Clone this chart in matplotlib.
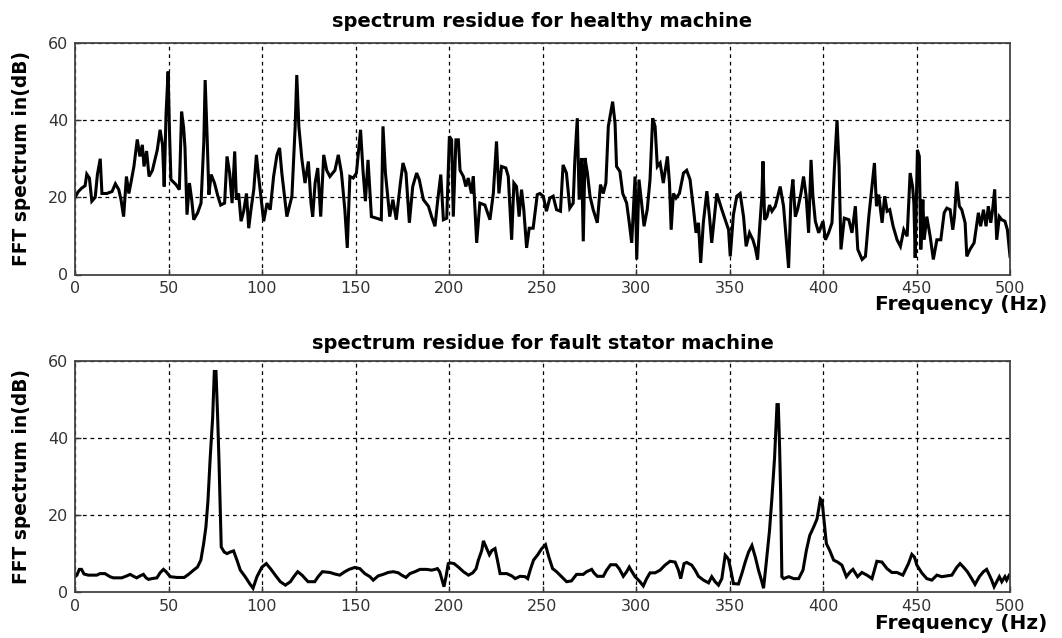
import numpy as np
import matplotlib.pyplot as plt

# healthy machine: (frequency Hz, level dB)
healthy_f = [0, 1.8, 3.6, 5.4, 6.3, 7.7, 9, 10.8, 12, 13.5, 14.4, 17, 19.8, 21.6, 23.4, 24.6, 26, 27.5, 28.8, 30,
             31.5, 33.3, 34.7, 36, 36.9, 38.3, 39.6, 41.4, 44, 45.5, 46.8, 47.7, 48.7, 49.8, 50.5, 51.3, 54, 55.8, 57, 58.1,
             58.8, 59.9, 61.2, 62.4, 63.5, 65.6, 67.4, 68.9, 69.6, 70.7, 71.6, 72.8, 74.6, 76.4, 77.9, 80, 81.3, 82.7, 84, 85.4,
             86.3, 87.5, 88.8, 90.2, 91.7, 92.9, 94.1, 95.6, 97, 98.2, 100, 100.9, 102.7, 104.4, 106.2, 108, 109.4, 110.6, 113.3, 116,
             117.7, 118.6, 119.7, 121.3, 123, 124.8, 126.2, 127.1, 128.4, 129.8, 131.4, 133, 134.6, 136.3, 139, 140.8, 142.5, 144.3, 145.6, 147,
             148.8, 150.5, 152.7, 154, 155.3, 156.7, 158.5, 161.2, 163.8, 164.7, 166, 168.3, 170, 171.8, 174, 175.4, 177, 178.8, 180.6, 182.7,
             184.1, 186.3, 189, 190.7, 192.5, 194, 195.6, 197, 198.8, 200.2, 201.4, 202.3, 203.7, 205, 205.9, 207.7, 209, 210.3, 212, 213,
             214.8, 216.5, 219.2, 221.9, 223.7, 225.4, 226.7, 228.1, 230.4, 231.7, 233.5, 234.7, 236.1, 237.5, 238.8, 240, 241.5, 242.9, 245, 247.2,
             248.6, 250.4, 252.1, 253.9, 255.7, 257.5, 259.6, 261, 262.8, 264.6, 266.4, 267.3, 268.6, 269.6, 270.9, 271.8, 272.7, 274, 275.4, 277.1,
             279.3, 281, 282.5, 283.9, 285.2, 286.4, 287.5, 288.8, 289.6, 291.4, 292.9, 295, 296.4, 297.7, 299.5, 300.4, 301.6, 303, 304.3, 306,
             307.5, 308.9, 310.2, 311.4, 312.9, 314.6, 316.8, 317.9, 318.8, 320, 321.4, 323.2, 325.4, 327.1, 328.9, 330.7, 332.1, 333.4, 334.6, 336,
             337.9, 339.3, 340.5, 343.2, 345.9, 347.7, 349.5, 350.4, 352.1, 353.9, 355.7, 357.5, 358.9, 360.7, 362.5, 363.8, 365, 366.1, 367.3, 367.9,
             368.8, 370, 371.4, 372.7, 374.5, 377.1, 378.9, 380.4, 381.6, 382.9, 383.9, 385.2, 386.4, 388.2, 389.6, 391, 392.3, 393.6, 394.6, 395.9,
             397.7, 400, 401.3, 403, 404.8, 406.1, 407.5, 408.6, 409.6, 411.4, 413.8, 415.5, 417.3, 418.6, 420.9, 422.7, 424.5, 426.3, 427.5, 428.6,
             429.8, 431.6, 433, 434.3, 435.7, 437.5, 439.6, 441.4, 443.2, 445, 446.6, 447.9, 448.6, 449.3, 450.5, 451.5, 452.3, 453.4, 454.1, 455.5,
             457.3, 459, 460.9, 463, 464.8, 466.2, 468, 469.4, 470.3, 471.5, 472.9, 474.2, 476, 476.9, 478.6, 480.8, 483.1, 484.3, 485.8, 487.2,
             488.4, 489.7, 490.7, 491.8, 492.9, 494.3, 495.6, 497.3, 498.6, 500]
healthy_db = [20, 21.5, 22.4, 23, 26, 25, 19, 20, 26, 30, 21, 21, 21.5, 23.5, 22, 19.4, 15, 25.4, 21, 24,
              28, 35, 30.6, 33.6, 28, 32, 25.4, 27, 32.3, 37.5, 33.6, 22.8, 41.8, 52.6, 37.5, 24.6, 23.3, 22, 42.2, 38,
              33, 15.5, 23.7, 19.4, 14.2, 16, 18.5, 34.5, 50.4, 35, 20.7, 25.9, 23.7, 20.3, 18, 18.5, 30.6, 26.3, 18.5, 31.9,
              19.4, 21, 13.8, 16.4, 21, 12, 16.8, 22, 31, 25.4, 17.7, 13.8, 18.5, 16.8, 25.4, 31, 32.8, 26.3, 15, 20.3,
              38, 51.7, 38.4, 30, 23.7, 29.3, 18.5, 15, 23.7, 27.6, 15, 31, 27, 25.4, 27, 31, 26.3, 16.8, 6.9, 25.4,
              25, 26.3, 37.5, 27, 19, 29.7, 15, 14.6, 14.2, 38.4, 26.3, 15, 19.4, 14.2, 23.7, 28.9, 26.3, 13.4, 22.8, 26.3,
              24.6, 19.4, 17.7, 15, 12.5, 19.4, 25.9, 14.2, 14.6, 35.8, 34.9, 15, 34.9, 34.9, 27, 25.4, 22.8, 25, 21, 25.4,
              8.2, 18.5, 18, 14.2, 21, 34.5, 21, 28, 27.6, 25.4, 9, 23.7, 22.8, 15, 22, 16.8, 6.9, 12, 12, 20.7,
              21, 20.3, 16.4, 19.8, 20.3, 16.8, 16.4, 28.4, 26.3, 17.2, 18.5, 29.7, 40.5, 19.4, 30.2, 8.6, 30.2, 26.3, 20.3, 16.8,
              13.4, 23.3, 21, 23.7, 38.4, 41.8, 44.8, 39.2, 28, 26.7, 21, 18.5, 13.4, 8.2, 25.4, 3.9, 24.6, 18.5, 12.5, 16.8,
              24.6, 40.5, 38.4, 28, 28.9, 23.7, 30.6, 23.7, 11.6, 21, 19.8, 21, 26.3, 27, 24.6, 17.2, 10.8, 13.4, 3, 13.4,
              21.6, 15, 8.2, 21, 16.8, 14.2, 11.6, 4.7, 15.5, 20.3, 21, 15, 7.3, 10.8, 9, 6.9, 3.9, 12, 20.3, 29.3,
              14.2, 15, 18, 16.4, 17.7, 22.8, 17.7, 9, 1.7, 20.3, 24.6, 15, 16.8, 21, 25.4, 20.3, 10.8, 29.7, 20.3, 13.8,
              10.8, 13.8, 9, 10.8, 13.4, 27.6, 40, 28, 6.5, 14.6, 14.2, 10.8, 17.7, 6.5, 3.9, 4.7, 15, 23.3, 28.9, 17.7,
              20.7, 13.4, 20.3, 16.4, 16.8, 12.5, 9, 7.3, 11.6, 9.9, 26.3, 22.8, 18.5, 4.3, 32.3, 30.6, 6.5, 19.4, 9, 15,
              9.9, 3.9, 9, 9, 16, 17.2, 16.8, 11.6, 15, 24.1, 17.7, 16.8, 13.4, 4.7, 6.5, 8.2, 16, 12.5, 16.8, 12.5,
              17.7, 13.4, 16.8, 22, 9, 15, 14.2, 13.8, 11.6, 4.7]

# fault stator machine
fault_f = [0, 1, 2.3, 3.5, 4.8, 7.1, 11.6, 13.4, 16, 18.7, 20.5, 25, 27.7, 29.5, 31.3, 33, 34.8, 36.6, 38, 39.3,
           41.1, 43.8, 45.5, 47.3, 48.7, 50.9, 54.5, 58.4, 60.7, 63.4, 65.5, 67.3, 68.8, 70, 71.1, 72.3, 73.6, 74.5, 75.4, 76.3,
           77, 77.7, 78.2, 79.8, 81.3, 83, 84.8, 86.6, 88.4, 91, 93.4, 95.2, 97.3, 100, 102.3, 104.5, 107.1, 109.8, 112.5, 115.2,
           117, 119.1, 121.4, 124.6, 128.2, 130, 132.3, 136.3, 138.9, 141.6, 144.3, 146.6, 149.6, 152.3, 155, 157.7, 159.5, 162.1, 164.8, 167.5,
           170.2, 172.9, 174.7, 177, 179.1, 181.8, 184.5, 188, 190.7, 192.5, 193.8, 195, 196.1, 197.3, 198.4, 199.6, 200.5, 202.7, 205, 207.7,
           210.4, 212.7, 214.5, 215.7, 217.5, 218.4, 219.8, 221.6, 222.9, 224.6, 225.9, 227.3, 230.9, 233.6, 235.4, 238, 240.7, 242.1, 243.4, 245.2,
           247.3, 249.6, 251.6, 253.4, 255.4, 257.5, 260.2, 262.9, 265.5, 268.2, 271.8, 273.6, 276.3, 277.5, 279.3, 282.5, 284.3, 286.4, 289.3, 291,
           293.2, 295, 296.4, 297.6, 299.5, 302.1, 303.9, 305.7, 307.5, 310.2, 312.9, 315.5, 318.2, 320.9, 322.7, 323.9, 325.7, 327.1, 329.8, 331.6,
           333.4, 336.1, 338.8, 340.5, 342.3, 344.1, 345.9, 347.7, 348.6, 349.5, 350.7, 352.1, 354.8, 356.6, 358.4, 360.2, 362, 363.8, 365.5, 367.3,
           368.2, 369.6, 371.4, 372.7, 374.1, 375.4, 376.1, 376.8, 377.4, 378, 379, 381.7, 384.3, 387, 389.3, 391.1, 392.9, 395, 396.8, 398.6,
           399.5, 400.4, 401.8, 403.6, 405.7, 407.8, 410.1, 412.5, 414.6, 416, 418.5, 420.8, 423.5, 426.2, 428.8, 431.5, 434.2, 436.8, 439.5, 442.7,
           445.7, 447.5, 448.9, 450.2, 452.8, 455.5, 458.2, 460.9, 463.5, 466.2, 468.9, 471.5, 473.3, 475.1, 477.2, 479.5, 481.3, 483.6, 485.8, 487.5,
           489, 490.2, 491.5, 492.9, 494.3, 495.6, 497.3, 498.2, 499.6]
fault_db = [3.9, 4.3, 5.8, 5.8, 4.6, 4.3, 4.3, 4.7, 4.7, 3.9, 3.6, 3.6, 4.1, 4.5, 4, 3.6, 4.1, 4.5, 3.6, 3.2,
            3.4, 3.6, 4.9, 5.8, 5.2, 3.9, 3.7, 3.7, 4.5, 5.6, 6.4, 8.2, 12.5, 16.8, 23.6, 34.8, 45.1, 57.2, 57.2, 45.1,
            34, 21.1, 11.6, 10.3, 9.9, 10.3, 10.6, 8.2, 5.6, 3.9, 2.1, 0.9, 3.9, 6.4, 7.3, 6, 4.3, 2.6, 1.7, 2.6,
            3.9, 5.2, 4.3, 2.6, 2.6, 3.9, 5.2, 5, 4.6, 4.3, 5.2, 5.8, 6.3, 6, 4.7, 3.9, 3, 4.1, 4.5, 5,
            5.2, 4.9, 4.3, 3.7, 4.7, 5.2, 5.8, 5.8, 5.6, 5.8, 6, 5.2, 3.4, 1.3, 3.9, 7.3, 7.5, 7.3, 6.4, 5.2,
            4.3, 4.9, 6, 8.2, 10.7, 13.2, 11.6, 9.6, 10.7, 11.2, 8.2, 4.7, 4.7, 4.1, 3.4, 4, 3.9, 3.4, 5.6, 8.2,
            9.5, 11.2, 12.2, 9, 6, 5.2, 3.9, 2.6, 2.8, 4.5, 4.5, 5.2, 5.8, 4.9, 4, 4, 5.6, 7, 7, 6,
            4, 5.2, 6.4, 5.4, 3.9, 2.6, 1.5, 3.4, 4.9, 4.9, 5.6, 6.9, 7.9, 7.7, 5.6, 3.4, 7.3, 7.6, 6.9, 5.6,
            4, 3, 2.3, 3.9, 2.6, 1.7, 3.4, 9.5, 9, 8.3, 5.6, 2.1, 2, 4.7, 7.7, 10.3, 12, 9, 5.6, 2.6,
            0.9, 7.3, 15.9, 24.5, 34.8, 48.6, 48.6, 37.4, 24.5, 3.9, 3.4, 3.9, 3.4, 3.4, 5.6, 10.7, 14.6, 16.8, 18.9, 24.1,
            23.6, 19.3, 12.5, 10.7, 8.2, 7.7, 6.9, 3.9, 5.2, 5.8, 3.9, 5, 4.3, 3.4, 7.9, 7.7, 6, 5, 5, 4.3,
            7.3, 9.7, 9, 6.9, 4.9, 3.4, 3, 4.3, 3.9, 4.1, 4.3, 6.3, 7.3, 6.4, 5.2, 3.4, 1.9, 3.9, 5.2, 5.8,
            4.3, 3, 1.3, 2.6, 3.9, 2.6, 3.9, 3, 4.3]

titles = ['spectrum residue for healthy machine', 'spectrum residue for fault stator machine']
x_ticks = [0, 50, 100, 150, 200, 250, 300, 350, 400, 450, 500]
y_ticks = [0, 20, 40, 60]

W, H = 1062, 638
fig = plt.figure(figsize=(W / 100, H / 100), dpi=100)

# axes boxes in pixels: left, right, top, bottom; plus title baseline and xlabel top
boxes = [(75, 1010, 43, 274.5), (75, 1010, 360.7, 591.7)]
title_base = [27, 349]
xlab_top = [295, 614]
series = [(healthy_f, healthy_db), (fault_f, fault_db)]

for i, (box, (f, db)) in enumerate(zip(boxes, series)):
    l, r, t, b = box
    ax = fig.add_axes([l / W, 1 - b / H, (r - l) / W, (b - t) / H])
    ax.plot(f, db, color='black', lw=2.2, solid_joinstyle='miter')
    ax.set_xlim(0, 500)
    ax.set_ylim(0, 60)
    ax.set_xticks(x_ticks)
    ax.set_yticks(y_ticks)
    ax.grid(True, color='black', linestyle=(0, (3, 3)), linewidth=0.9)
    ax.tick_params(direction='in', length=4, width=1, labelsize=11.5, colors='#333333', pad=5)
    for s in ax.spines.values():
        s.set_color('#444444')
        s.set_linewidth(1.3)
    fig.text((l + r) / 2 / W, 1 - title_base[i] / H, titles[i], ha='center', va='baseline',
             fontsize=14, fontweight='bold', family='DejaVu Sans')
    fig.text(22 / W, 1 - (t + b) / 2 / H, 'FFT spectrum in(dB)', rotation=90, ha='center', va='center',
             fontsize=13.4, fontweight='bold', family='DejaVu Sans')
    # MATLAB-style xlabel sitting at the right under the ticks
    fig.text(1047 / W, 1 - xlab_top[i] / H, 'Frequency (Hz)', ha='right', va='top',
             fontsize=14.5, fontweight='bold', family='DejaVu Sans')

fig.savefig('out.png', dpi=100)
